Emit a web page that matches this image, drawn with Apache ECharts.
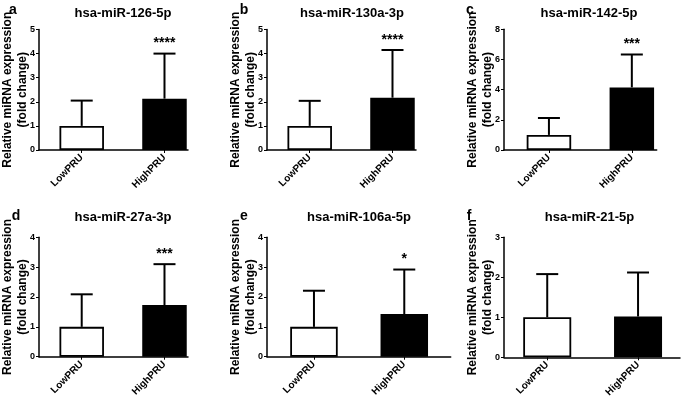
<!DOCTYPE html>
<html><head><meta charset="utf-8">
<script src="https://cdn.jsdelivr.net/npm/echarts@6/dist/echarts.min.js"></script>
<style>html,body{margin:0;padding:0;background:#fff}#c{width:685px;height:400px}</style>
</head><body><div id="c"></div>
<script>
// ---- data ----
const panelLetters = ['a','b','c','d','e','f'];
const titles = ['hsa-miR-126-5p','hsa-miR-130a-3p','hsa-miR-142-5p','hsa-miR-27a-3p','hsa-miR-106a-5p','hsa-miR-21-5p'];
const groups = ['LowPRU','HighPRU'];
const lowMean = [1.00, 1.00, 1.00, 1.00, 1.00, 1.00];
const lowUpper = [2.05, 2.04, 2.12, 2.09, 2.21, 2.08];
const highMean = [2.13, 2.17, 4.15, 1.73, 1.43, 1.02];
const highUpper = [4.00, 4.15, 6.33, 3.10, 2.92, 2.12];
const stars = ['****','****','***','***','*',''];
const yMax = [5, 5, 8, 4, 4, 3];
const yStep = [1, 1, 2, 1, 1, 1];
const yName = 'Relative miRNA expression\n(fold change)';

// ---- layout (pixels) ----
const layout = [
  {left:39,  top:29.5,  width:149,   height:120.5, xMin:0.484, xMax:2.284, barW:44.5, tx:123,   ty:13,  lx:13,  ly:10},
  {left:267, top:29.5,  width:149,   height:120.5, xMin:0.484, xMax:2.284, barW:44.5, tx:352,   ty:13,  lx:244, ly:10},
  {left:504, top:29.3,  width:152.7, height:120.7, xMin:0.458, xMax:2.300, barW:44.5, tx:589,   ty:13,  lx:470, ly:10},
  {left:39,  top:237.3, width:149,   height:119.4, xMin:0.484, xMax:2.284, barW:44.5, tx:123,   ty:217, lx:16,  ly:216},
  {left:267, top:237.3, width:183.7, height:119.4, xMin:0.480, xMax:2.514, barW:47.5, tx:359,   ty:217, lx:244, ly:216},
  {left:504, top:237.3, width:176,   height:120,   xMin:0.524, xMax:2.462, barW:48,   tx:589.5, ty:217, lx:469, ly:216}
];
const FONT = "'Liberation Sans', Arial, sans-serif";

const grid = [], xAxis = [], yAxis = [], series = [], graphic = [];
layout.forEach((L, i) => {
  grid.push({left:L.left, top:L.top, width:L.width, height:L.height, containLabel:false, outerBoundsMode:'none'});
  xAxis.push({
    type:'value', gridIndex:i, min:L.xMin, max:L.xMax,
    splitLine:{show:false},
    axisLine:{show:true, onZero:false, lineStyle:{color:'#000', width:1.5}},
    axisTick:{show:true, customValues:[1,2], length:3, lineStyle:{color:'#000', width:1}},
    axisLabel:{customValues:[1,2], rotate:45, margin:6, color:'#000', fontSize:10, fontWeight:'bold', fontFamily:FONT,
      formatter: v => groups[Math.round(v) - 1] || ''}
  });
  yAxis.push({
    type:'value', gridIndex:i, min:0, max:yMax[i], interval:yStep[i],
    name: yName, nameLocation:'middle', nameGap:9, nameMoveOverlap:false,
    nameTextStyle:{color:'#000', fontSize:12, fontWeight:'bold', fontFamily:FONT, lineHeight:15},
    splitLine:{show:false},
    axisLine:{show:true, lineStyle:{color:'#000', width:1.5}},
    axisTick:{show:true, length:3, lineStyle:{color:'#000', width:1}},
    axisLabel:{color:'#000', fontSize:9, fontWeight:'bold', fontFamily:FONT, margin:4}
  });
  series.push({
    type:'bar', xAxisIndex:i, yAxisIndex:i, barWidth:L.barW,
    data:[
      {value:[1, lowMean[i]],  itemStyle:{color:'#fff', borderColor:'#000', borderWidth:1.8}},
      {value:[2, highMean[i]], itemStyle:{color:'#000', borderColor:'#000', borderWidth:1.8}}
    ],
    silent:true, animation:false
  });
  series.push({
    type:'custom', xAxisIndex:i, yAxisIndex:i, clip:false, silent:true, animation:false, z:5,
    data:[[1, lowMean[i], lowUpper[i], ''], [2, highMean[i], highUpper[i], stars[i]]],
    renderItem:(params, api) => {
      const x = api.value(0);
      const p0 = api.coord([x, api.value(1)]);
      const p1 = api.coord([x, api.value(2)]);
      const capHalf = 11;
      const children = [
        {type:'line', shape:{x1:p0[0], y1:p0[1], x2:p1[0], y2:p1[1]}, style:{stroke:'#000', lineWidth:2}},
        {type:'line', shape:{x1:p1[0]-capHalf, y1:p1[1], x2:p1[0]+capHalf, y2:p1[1]}, style:{stroke:'#000', lineWidth:2}}
      ];
      const s = api.value(3);
      if (s) {
        children.push({type:'text', x:p1[0], y:p1[1]-3,
          style:{text:s, fill:'#000', font:'bold 14px ' + FONT, align:'center', verticalAlign:'bottom',
                 textAlign:'center', textVerticalAlign:'bottom'}});
      }
      return {type:'group', children};
    }
  });
  graphic.push({type:'text', x:L.tx, y:L.ty,
    style:{text:titles[i], fill:'#000', font:'bold 13px ' + FONT, align:'center', verticalAlign:'middle',
           textAlign:'center', textVerticalAlign:'middle'}});
  graphic.push({type:'text', x:L.lx, y:L.ly,
    style:{text:panelLetters[i], fill:'#000', font:'bold 14px ' + FONT, align:'center', verticalAlign:'middle',
           textAlign:'center', textVerticalAlign:'middle'}});
});

const chart = echarts.init(document.getElementById('c'), null, {renderer:'canvas'});
chart.setOption({backgroundColor:'#fff', animation:false, grid, xAxis, yAxis, series, graphic});
</script>
</body></html>
